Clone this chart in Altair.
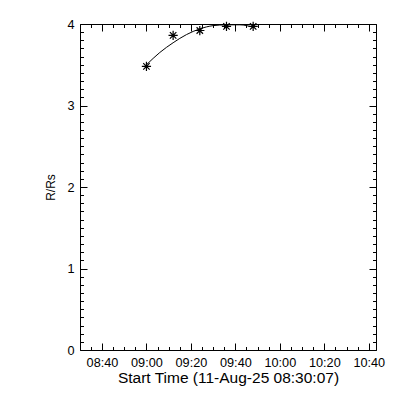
import altair as alt
import pandas as pd

# observed heights (asterisks)
obs_time = ["2025-08-11T09:00:00Z", "2025-08-11T09:12:00Z", "2025-08-11T09:24:00Z",
            "2025-08-11T09:36:00Z", "2025-08-11T09:48:00Z"]
obs_r = [3.48, 3.86, 3.92, 3.97, 3.97]

# fitted curve
fit_time = ["2025-08-11T09:00:00Z", "2025-08-11T09:06:00Z", "2025-08-11T09:12:00Z",
            "2025-08-11T09:18:00Z", "2025-08-11T09:24:00Z", "2025-08-11T09:30:00Z",
            "2025-08-11T09:36:00Z", "2025-08-11T09:42:00Z", "2025-08-11T09:48:00Z"]
fit_r = [3.50, 3.65, 3.77, 3.87, 3.94, 3.98, 3.99, 3.99, 3.96]

# axis ticks (hour, minute)
x_major = [(8, 40), (9, 0), (9, 20), (9, 40), (10, 0), (10, 20), (10, 40)]
x_minor = [(h, m) for h in (8, 9, 10) for m in range(0, 60, 5)
           if (8, 35) <= (h, m) <= (10, 40)]
y_major = [0, 1, 2, 3, 4]
y_minor = [round(i * 0.1, 1) for i in range(41)]


def dt(h, m, s=0):
    return alt.DateTime(year=2025, month=8, date=11, hours=h, minutes=m, seconds=s, utc=True)


xscale = alt.Scale(type="utc", domain=[dt(8, 30, 7), dt(10, 43, 15)])
yscale = alt.Scale(domain=[0, 4], nice=False, zero=False)

FONT = "Liberation Sans"
MAJ = 7
MIN = 3.5

obs = pd.DataFrame({"t": obs_time, "r": obs_r})
fit = pd.DataFrame({"t": fit_time, "r": fit_r})


def tick_axis(orient, values, size):
    return alt.Axis(orient=orient, values=values, tickSize=size, offset=-size,
                    labels=False, domain=False, grid=False, title=None,
                    ticks=True, tickColor="black", tickWidth=1)


xmaj = [dt(h, m) for h, m in x_major]
xmin = [dt(h, m) for h, m in x_minor]

line = alt.Chart(fit).mark_line(color="black", strokeWidth=1, interpolate="monotone").encode(
    x=alt.X("t:T", scale=xscale,
            axis=alt.Axis(orient="bottom", values=xmaj,
                          labelExpr="utcFormat(datum.value, '%H:%M')",
                          ticks=False, domain=False, grid=False, labelPadding=6.5,
                          labelFont=FONT, labelFontSize=12.7, labelColor="black",
                          title="Start Time (11-Aug-25 08:30:07)", titleFont=FONT,
                          titleFontSize=15.5, titleFontWeight="normal", titleColor="black",
                          titlePadding=1, labelFlush=False, labelOverlap=False)),
    y=alt.Y("r:Q", scale=yscale,
            axis=alt.Axis(orient="left", values=y_major, ticks=False, domain=False, grid=False,
                          labelPadding=6, labelFont=FONT, labelFontSize=12.7, labelColor="black",
                          title="R/Rs", titleFont=FONT, titleFontSize=12,
                          titleFontWeight="normal", titleColor="black", titlePadding=9,
                          labelFlush=False, labelOverlap=False)),
)

star = "M-1,0L1,0M0,-1L0,1M-0.7,-0.7L0.7,0.7M-0.7,0.7L0.7,-0.7"

pts = alt.Chart(obs).mark_point(shape=star, filled=False, color="black", strokeWidth=1.2,
                                size=85, opacity=1).encode(
    x=alt.X("t:T", scale=xscale, axis=tick_axis("bottom", xmaj, MAJ)),
    y=alt.Y("r:Q", scale=yscale, axis=tick_axis("left", y_major, MAJ)),
)

inv3 = alt.Chart(obs).mark_point(opacity=0).encode(
    x=alt.X("t:T", scale=xscale, axis=tick_axis("bottom", xmin, MIN)),
    y=alt.Y("r:Q", scale=yscale, axis=tick_axis("left", y_minor, MIN)),
)
inv4 = alt.Chart(obs).mark_point(opacity=0).encode(
    x=alt.X("t:T", scale=xscale, axis=tick_axis("top", xmaj, MAJ)),
    y=alt.Y("r:Q", scale=yscale, axis=tick_axis("right", y_major, MAJ)),
)
inv5 = alt.Chart(obs).mark_point(opacity=0).encode(
    x=alt.X("t:T", scale=xscale, axis=tick_axis("top", xmin, MIN)),
    y=alt.Y("r:Q", scale=yscale, axis=tick_axis("right", y_minor, MIN)),
)

chart = alt.layer(line, pts, inv3, inv4, inv5).resolve_axis(
    x="independent", y="independent"
).properties(
    width=296, height=326,
    autosize=alt.AutoSizeParams(type="none"),
    padding={"left": 72, "top": 16, "right": 16, "bottom": 42},
    background="white",
).configure_view(stroke="black", strokeWidth=1)

chart.save("out.html", embed_options={"renderer": "svg", "actions": False})
